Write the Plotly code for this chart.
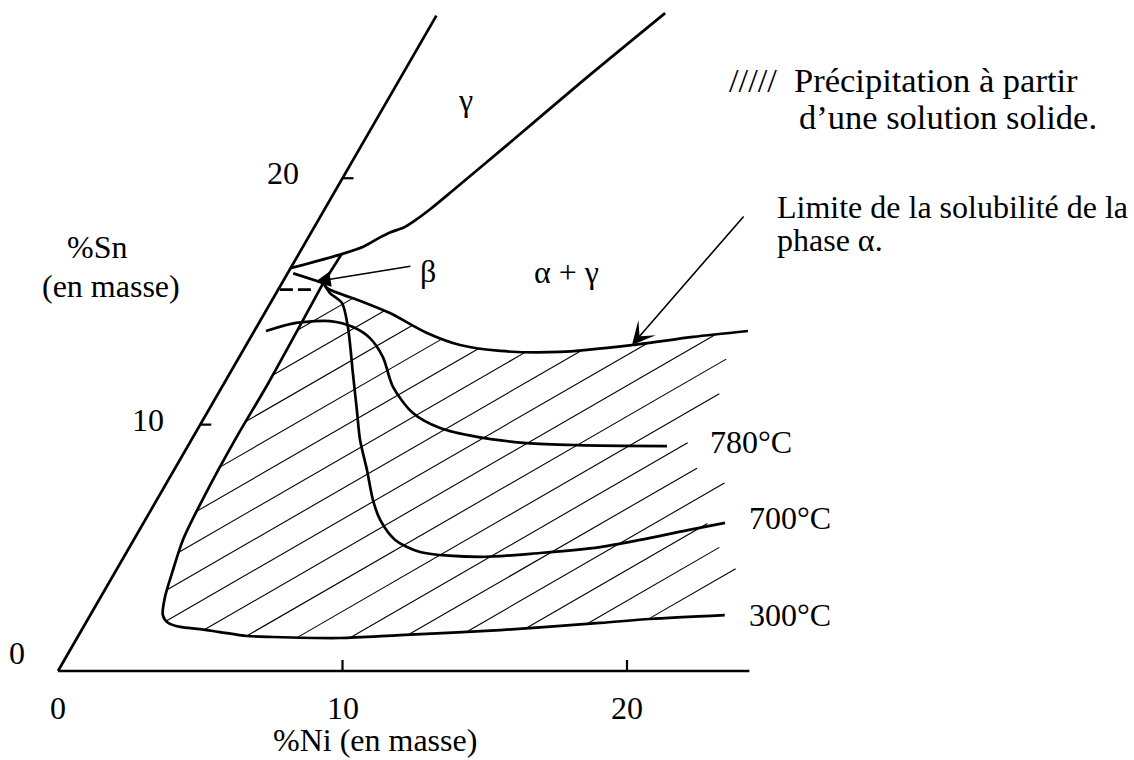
import numpy as np
import plotly.graph_objects as go

# ---------------- composition axes (mass %) ----------------
ni_axis_end = 24.3
sn_axis_end = 26.6
ni_tick_values = [10, 20]
sn_tick_values = [10, 20]
ni_label_values = [0, 10, 20]
ni_label_texts = ["0", "10", "20"]
sn_label_values = [0, 10, 20]
sn_label_texts = ["0", "10", "20"]

# ---------------- phase boundaries (Ni %, Sn %) ----------------
gamma_ni = [0.0, 1.51, 2.12, 2.52, 2.77, 3.14, 3.37, 3.71, 4.14, 5.22, 6.42, 7.99]
gamma_sn = [16.35, 16.92, 17.22, 17.60, 17.80, 17.99, 18.24, 18.74, 19.52, 21.55, 23.86, 26.70]

beta_left_ni = [0.20, 1.45]
beta_left_sn = [16.14, 15.75]
beta_right_ni = [1.51, 1.45]
beta_right_sn = [16.92, 15.75]
beta_dash_ni = [0.06, 1.29]
beta_dash_sn = [15.48, 15.48]

# limit of alpha solubility
alpha_limit_ni = [1.45, 1.69, 3.23, 4.40, 6.11, 7.52, 9.05, 11.17, 13.56, 15.54, 17.35]
alpha_limit_sn = [15.75, 15.54, 14.98, 14.53, 13.72, 13.23, 12.99, 12.95, 13.23, 13.56, 13.80]

# isotherms
iso300_ni = [1.45, 1.55, 1.53, 1.60, 1.73, 2.02, 2.26, 2.55, 2.90, 3.40, 4.14, 4.90,
             5.93, 6.87, 9.24, 11.29, 14.71, 18.08, 19.75, 22.30]
iso300_sn = [15.75, 11.68, 9.51, 7.00, 5.32, 3.98, 3.00, 2.27, 1.95, 1.79, 1.70, 1.58,
             1.42, 1.38, 1.34, 1.46, 1.66, 1.95, 2.11, 2.27]

iso700_ni = [1.45, 1.89, 2.51, 3.21, 4.32, 5.21, 5.93, 6.78, 7.60, 8.26, 9.19, 10.31,
             12.52, 14.55, 16.54, 17.80, 19.28, 20.44]
iso700_sn = [15.75, 15.34, 14.94, 13.96, 12.09, 10.59, 9.375, 8.16, 6.94, 6.13, 5.32, 4.83,
             4.63, 4.79, 5.03, 5.32, 5.72, 6.01]

iso780_ni = [0.41, 1.11, 1.53, 2.46, 3.39, 4.21, 5.05, 6.01, 7.24, 8.50, 9.98, 11.86, 13.66, 16.84]
iso780_sn = [13.80, 14.08, 14.16, 14.20, 13.96, 13.51, 12.74, 11.53, 10.47, 9.86, 9.50, 9.25, 9.17, 9.13]

# right-hand edge of the hatched precipitation field
hatch_edge_ni = [16.4, 17.2, 17.65, 17.5, 18.3, 19.6, 19.8, 20.7, 21.78, 20.5]
hatch_edge_sn = [13.68, 12.6, 11.15, 9.25, 8.25, 7.72, 6.02, 5.05, 4.12, 2.16]

# arrows: (tip Ni, tip Sn, tail Ni, tail Sn)
beta_arrow = (1.15, 15.80, 4.22, 16.44)
limit_arrow = (13.56, 13.23, 14.89, 18.51)

# ---------------- styling ----------------
W, H = 1134, 760
PX = 28.45            # pixels per mass %
ORIGIN = (58, 671)    # pixel position of the Cu corner
FONT = "Liberation Serif, Times New Roman, serif"
FS = 32
FS_KEY = 34.5
THICK = 2.7
HATCH_STEP = 1.87
HATCH_START = 4.5
HATCH_K = range(-9, 8)

SQ = np.sqrt(3) / 2


def to_xy(ni, sn):
    ni = np.asarray(ni, float)
    sn = np.asarray(sn, float)
    return ni + sn / 2, sn * SQ


x_range = [-ORIGIN[0] / PX, (W - ORIGIN[0]) / PX]
y_range = [(ORIGIN[1] - H) / PX, ORIGIN[1] / PX]

fig = go.Figure()


def add_line(ni, sn, width=THICK, dash="solid", shape="linear"):
    x, y = to_xy(ni, sn)
    fig.add_trace(go.Scatter(x=x, y=y, mode="lines", hoverinfo="skip",
                             line=dict(color="black", width=width, dash=dash,
                                       shape=shape, smoothing=0.8)))


# ---- hatching: lines of constant (Ni - Sn) clipped to the field ----
poly_ni = [n for n in alpha_limit_ni if n < hatch_edge_ni[0]]
poly_sn = alpha_limit_sn[:len(poly_ni)]
poly_ni = poly_ni + hatch_edge_ni
poly_sn = poly_sn + hatch_edge_sn
low = [(n, s) for n, s in zip(iso300_ni, iso300_sn) if n < hatch_edge_ni[-1]]
poly_ni += [p[0] for p in low[::-1]]
poly_sn += [p[1] for p in low[::-1]]
P = np.column_stack([poly_ni, poly_sn])

hx, hy = [], []
for k in HATCH_K:
    c = HATCH_START + HATCH_STEP * k
    d = P[:, 0] - P[:, 1] - c
    pts = []
    for i in range(len(P)):
        j = (i + 1) % len(P)
        if (d[i] > 0) != (d[j] > 0):
            t = d[i] / (d[i] - d[j])
            pts.append(P[i] + t * (P[j] - P[i]))
    pts.sort(key=lambda p: p[1])
    for a, b in zip(pts[0::2], pts[1::2]):
        xa, ya = to_xy(a[0], a[1])
        xb, yb = to_xy(b[0], b[1])
        hx += [float(xa), float(xb), None]
        hy += [float(ya), float(yb), None]
fig.add_trace(go.Scatter(x=hx, y=hy, mode="lines", hoverinfo="skip",
                         line=dict(color="black", width=1.1)))

# ---- axes ----
add_line([0, ni_axis_end], [0, 0])
add_line([0, 0], [0, sn_axis_end])
tx, ty = [], []
for v in ni_tick_values:
    x, y = to_xy(v, 0)
    tx += [float(x), float(x), None]
    ty += [float(y), float(y) + 11 / PX, None]
for v in sn_tick_values:
    x, y = to_xy(0, v)
    tx += [float(x), float(x) + 11 / PX, None]
    ty += [float(y), float(y), None]
fig.add_trace(go.Scatter(x=tx, y=ty, mode="lines", hoverinfo="skip",
                         line=dict(color="black", width=2.2)))

# ---- boundaries ----
add_line(gamma_ni, gamma_sn, shape="spline")
add_line(beta_left_ni, beta_left_sn)
add_line(beta_right_ni, beta_right_sn)
add_line(beta_dash_ni, beta_dash_sn, dash="13px,5px")
add_line(alpha_limit_ni, alpha_limit_sn, shape="spline")
add_line(iso300_ni, iso300_sn, shape="spline")
add_line(iso700_ni, iso700_sn, shape="spline")
add_line(iso780_ni, iso780_sn, shape="spline")

annotations = []


def text_px(txt, px, py, anchor="center", size=FS):
    annotations.append(dict(text=txt, x=px / W, y=1 - py / H, xref="paper", yref="paper",
                            xanchor=anchor, yanchor="middle", showarrow=False,
                            font=dict(family=FONT, size=size, color="black")))


# tick labels
for v, t in zip(ni_label_values, ni_label_texts):
    x, y = to_xy(v, 0)
    annotations.append(dict(text=t, x=float(x), y=float(y), xref="x", yref="y",
                            showarrow=False, yshift=-37, xanchor="center", yanchor="middle",
                            font=dict(family=FONT, size=FS, color="black")))
sn_label_shift = [(-41, 18), (-52, 5), (-60, 5)]
for v, t, (sx, sy) in zip(sn_label_values, sn_label_texts, sn_label_shift):
    x, y = to_xy(0, v)
    annotations.append(dict(text=t, x=float(x), y=float(y), xref="x", yref="y",
                            showarrow=False, xshift=sx, yshift=sy, xanchor="center",
                            yanchor="middle", font=dict(family=FONT, size=FS, color="black")))

# axis titles and field labels
text_px("%Ni (en masse)", 375, 740)
text_px("%Sn", 97, 247)
text_px("(en masse)", 111, 286)
text_px("γ", 465, 100)
text_px("β", 428, 271)
text_px("α + γ", 566, 272)
text_px("780°C", 708, 442, "left")
text_px("700°C", 747, 518, "left")
text_px("300°C", 747, 615, "left")
text_px("/////", 727, 80, "left", FS_KEY)
text_px("Précipitation à partir", 792, 80, "left", FS_KEY)
text_px("d’une solution solide.", 797, 117, "left", FS_KEY)
text_px("Limite de la solubilité de la", 775, 207, "left")
text_px("phase α.", 775, 240, "left")

# arrows
for (tn, ts, an, as_), head, size in [(beta_arrow, 2, 1.9), (limit_arrow, 3, 2.4)]:
    x, y = to_xy(tn, ts)
    ax, ay = to_xy(an, as_)
    annotations.append(dict(text="", x=float(x), y=float(y), ax=float(ax), ay=float(ay),
                            xref="x", yref="y", axref="x", ayref="y", showarrow=True,
                            arrowhead=head, arrowsize=size, arrowwidth=1.6,
                            arrowcolor="black", standoff=0, startstandoff=0))

fig.update_layout(
    width=W, height=H,
    margin=dict(l=0, r=0, t=0, b=0),
    paper_bgcolor="white", plot_bgcolor="white",
    showlegend=False,
    xaxis=dict(range=x_range, visible=False, fixedrange=True),
    yaxis=dict(range=y_range, visible=False, fixedrange=True),
    annotations=annotations,
)

fig.write_html("out.html")
